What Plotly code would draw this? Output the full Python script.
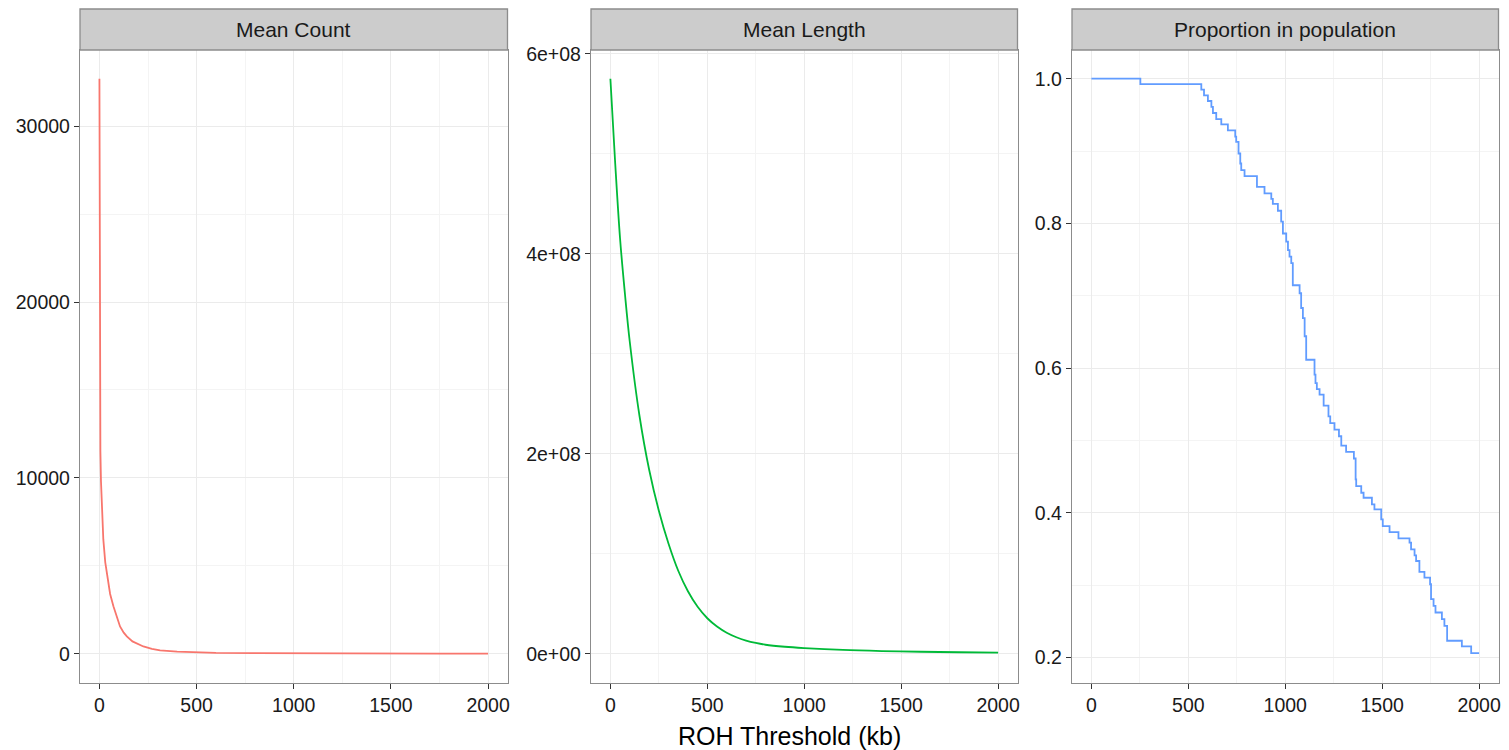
import plotly.graph_objects as go

# ---------------- data ----------------
count_x = [0, 1, 2, 3, 5, 8, 12, 20, 30, 40, 55, 72, 90, 106, 125, 141, 170, 200, 226, 270,
           312, 400, 500, 600, 800, 1000, 1250, 1500, 1750, 2000]
count_y = [32700, 27000, 20000, 15500, 11500, 9800, 8700, 6500, 5200, 4400, 3400, 2700, 2050,
           1550, 1200, 985, 700, 540, 415, 280, 190, 120, 74, 50, 30, 18, 12, 8, 6, 4]

length_x = [0, 25, 50, 75, 100, 150, 200, 250, 300, 350, 400, 450, 500, 550, 600, 650, 700,
            750, 800, 900, 1000, 1200, 1400, 1600, 1800, 2000]
length_y = [5.75e8, 4.9e8, 4.15e8, 3.6e8, 3.12e8, 2.38e8, 1.84e8, 1.43e8, 1.1e8, 0.83e8,
            0.625e8, 0.47e8, 0.355e8, 0.272e8, 0.21e8, 0.165e8, 0.132e8, 0.108e8, 0.09e8,
            0.07e8, 0.057e8, 0.038e8, 0.027e8, 0.02e8, 0.015e8, 0.011e8]

prop_x = [0, 252.6, 567, 581, 601, 619, 627, 644, 670, 704, 742, 747, 759, 768, 773, 790, 854,
          893, 928, 936, 962, 979, 988, 1005, 1014, 1022, 1031, 1039, 1074, 1082, 1091, 1100,
          1108, 1151, 1156, 1163, 1177, 1198, 1223, 1232, 1254, 1277, 1289, 1314, 1354, 1363,
          1366, 1392, 1404, 1447, 1460, 1495, 1503, 1538, 1584, 1641, 1649, 1667, 1675, 1692,
          1718, 1747, 1752, 1765, 1775, 1808, 1821, 1835, 1911, 1959, 2000]
prop_y = [1.0, 0.9926, 0.9848, 0.977, 0.9692, 0.961, 0.9526, 0.944, 0.937, 0.9287, 0.920,
          0.9126, 0.8966, 0.8828, 0.8736, 0.8653, 0.8506, 0.8414, 0.834, 0.827, 0.8175, 0.8023,
          0.786, 0.7747, 0.763, 0.754, 0.745, 0.7145, 0.7034, 0.683, 0.669, 0.644, 0.6115,
          0.5908, 0.5793, 0.571, 0.5632, 0.548, 0.5333, 0.524, 0.515, 0.5057, 0.4929, 0.4841,
          0.475, 0.446, 0.4368, 0.4276, 0.4207, 0.4115, 0.4046, 0.3908, 0.3816, 0.3733, 0.3646,
          0.3586, 0.3494, 0.3411, 0.3333, 0.3182, 0.3103, 0.3011, 0.2805, 0.2713, 0.2621,
          0.253, 0.2437, 0.223, 0.2152, 0.206, 0.206]

panel_titles = ["Mean Count", "Mean Length", "Proportion in population"]
x_ticks = [0, 500, 1000, 1500, 2000]
count_ticks = [0, 10000, 20000, 30000]
length_ticks = [0, 2e8, 4e8, 6e8]
length_tick_text = ["0e+00", "2e+08", "4e+08", "6e+08"]
prop_ticks = [0.2, 0.4, 0.6, 0.8, 1.0]
colors = ["#F8766D", "#00BA38", "#619CFF"]

# ---------------- layout ----------------
W, H = 1509, 750
def px_x(p):
    return p / W
def px_y(p):
    return 1 - p / H

x_domains = [(px_x(80), px_x(507.5)), (px_x(591), px_x(1017.5)), (px_x(1072), px_x(1498.5))]
y_dom = (px_y(682.5), px_y(50))
strip_top = px_y(9)

FONT = "Liberation Sans, Arial, sans-serif"

fig = go.Figure()
fig.add_trace(go.Scatter(x=count_x, y=count_y, mode="lines", line=dict(color=colors[0], width=1.8),
                         xaxis="x", yaxis="y", showlegend=False))
fig.add_trace(go.Scatter(x=length_x, y=length_y, mode="lines", line=dict(color=colors[1], width=1.8, shape="spline"),
                         xaxis="x2", yaxis="y2", showlegend=False))
fig.add_trace(go.Scatter(x=prop_x, y=prop_y, mode="lines", line=dict(color=colors[2], width=1.8, shape="hv"),
                         xaxis="x3", yaxis="y3", showlegend=False))

font_tick = dict(family=FONT, size=19.5, color="#1a1a1a")
grid_major = "#EBEBEB"
grid_minor = "#F4F4F4"
border = "#8C8C8C"

def xaxis(dom, anchor):
    return dict(domain=dom, anchor=anchor, range=[-100, 2100], tickvals=x_ticks,
                ticks="outside", ticklen=5, tickwidth=1.3, tickcolor="#333333",
                showgrid=True, gridcolor=grid_major, gridwidth=1.2,
                minor=dict(tickvals=[250, 750, 1250, 1750], showgrid=True, gridcolor=grid_minor, gridwidth=1, ticks=""),
                showline=True, linecolor=border, linewidth=1.3, mirror=True, automargin=False,
                zeroline=False, tickfont=font_tick, fixedrange=True)

def yaxis(anchor, rng, tickvals, ticktext, minorvals):
    return dict(domain=y_dom, anchor=anchor, range=rng, tickvals=tickvals, ticktext=ticktext,
                ticks="outside", ticklen=5, tickwidth=1.3, tickcolor="#333333",
                showgrid=True, gridcolor=grid_major, gridwidth=1.2,
                minor=dict(tickvals=minorvals, showgrid=True, gridcolor=grid_minor, gridwidth=1, ticks=""),
                showline=True, linecolor=border, linewidth=1.3, mirror=True, automargin=False,
                zeroline=False, tickfont=font_tick, fixedrange=True)

fig.update_layout(
    template="none",
    width=W, height=H, margin=dict(l=0, r=0, t=0, b=0, pad=0, autoexpand=False),
    paper_bgcolor="white", plot_bgcolor="white",
    xaxis=xaxis(x_domains[0], "y"),
    xaxis2=xaxis(x_domains[1], "y2"),
    xaxis3=xaxis(x_domains[2], "y3"),
    yaxis=yaxis("x", [-1635, 34335], count_ticks, [str(v) for v in count_ticks], [5000, 15000, 25000]),
    yaxis2=yaxis("x2", [-2.875e7, 6.0375e8], length_ticks, length_tick_text, [1e8, 3e8, 5e8]),
    yaxis3=yaxis("x3", [0.1653, 1.0397], prop_ticks, ["%.1f" % v for v in prop_ticks], [0.3, 0.5, 0.7, 0.9]),
)

shapes = []
annotations = []
for (d0, d1), title in zip(x_domains, panel_titles):
    shapes.append(dict(type="rect", xref="paper", yref="paper", x0=d0, x1=d1, y0=y_dom[1], y1=strip_top,
                       fillcolor="#CCCCCC", line=dict(color=border, width=1.3), layer="above"))
    annotations.append(dict(x=(d0 + d1) / 2, y=(y_dom[1] + strip_top) / 2, xref="paper", yref="paper",
                            text=title, showarrow=False, xanchor="center", yanchor="middle",
                            font=dict(family=FONT, size=21, color="#1a1a1a")))

annotations.append(dict(x=(x_domains[0][0] + x_domains[2][1]) / 2, y=px_y(736), xref="paper", yref="paper",
                        text="ROH Threshold (kb)", showarrow=False, xanchor="center", yanchor="middle",
                        font=dict(family=FONT, size=25, color="#000000")))
fig.update_layout(shapes=shapes, annotations=annotations)

fig.write_html("out.html")
